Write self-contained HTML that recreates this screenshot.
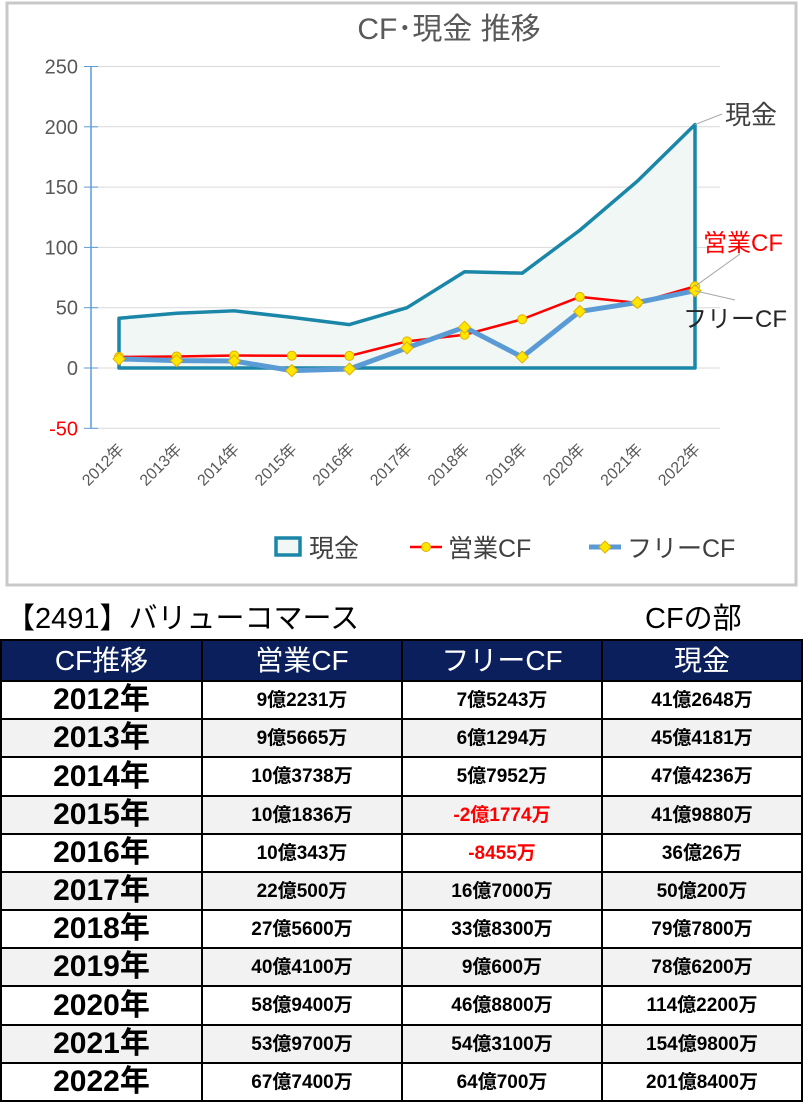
<!DOCTYPE html>
<html><head><meta charset="utf-8">
<style>
body{margin:0;width:803px;height:1102px;background:#fff;font-family:"Liberation Sans","Noto Sans CJK JP",sans-serif;overflow:hidden;position:relative}
#chart{position:absolute;left:0;top:0}
.hdr{position:absolute;top:602px;font-size:29px;line-height:34px;color:#000}
#grid{position:absolute;left:0;top:639px;width:803px;height:463px;background:#000}
.c{position:absolute;display:flex;align-items:center;justify-content:center;background:#fff;font-weight:bold;font-size:19px;line-height:1;white-space:nowrap}
.h{background:#0b1f5c;color:#fff;font-size:28px;font-weight:normal}
.g{background:#f2f2f2}
.y{font-size:30px}
.neg{color:#f00}
</style></head><body>
<svg id="chart" width="803" height="590" xmlns="http://www.w3.org/2000/svg" font-family="Liberation Sans, Noto Sans CJK JP, sans-serif"></svg>
<div class="hdr" style="left:6px">【2491】バリューコマース</div>
<div class="hdr" style="left:645px">CFの部</div>
<div id="grid"></div>
<script>
const categories=["2012年","2013年","2014年","2015年","2016年","2017年","2018年","2019年","2020年","2021年","2022年"];
const cash=[41.26,45.42,47.42,41.99,36.0,50.02,79.78,78.62,114.22,154.98,201.84];
const operating=[9.22,9.57,10.37,10.18,10.03,22.05,27.56,40.41,58.94,53.97,67.74];
const free=[7.52,6.13,5.80,-2.18,-0.85,16.7,33.83,9.06,46.88,54.31,64.07];
const yTicks=[250,200,150,100,50,0,-50];
const opText=["9億2231万","9億5665万","10億3738万","10億1836万","10億343万","22億500万","27億5600万","40億4100万","58億9400万","53億9700万","67億7400万"];
const freeText=["7億5243万","6億1294万","5億7952万","-2億1774万","-8455万","16億7000万","33億8300万","9億600万","46億8800万","54億3100万","64億700万"];
const cashText=["41億2648万","45億4181万","47億4236万","41億9880万","36億26万","50億200万","79億7800万","78億6200万","114億2200万","154億9800万","201億8400万"];
const NS="http://www.w3.org/2000/svg";
const svg=document.getElementById('chart');
const X=i=>119+i*57.6;
const Y=v=>368-v*1.206;
function mk(t,a,p){const e=document.createElementNS(NS,t);for(const k in a)e.setAttribute(k,a[k]);(p||svg).appendChild(e);return e;}
let e;
e=mk('rect',{x:7,y:3,width:789,height:582,fill:'#fff',stroke:'#c8c8c8','stroke-width':3});


e=mk('text',{x:449,y:39,'text-anchor':'middle','font-size':30,fill:'#595959'});e.textContent='CF･現金 推移';


yTicks.forEach(v=>{
 e=mk('line',{x1:91,x2:720,y1:Y(v),y2:Y(v),stroke:'#d9d9d9'});
 
 
 mk('line',{x1:84,x2:98,y1:Y(v),y2:Y(v),stroke:'#5b9bd5'});
 e=mk('text',{x:78,y:Y(v)+7,'text-anchor':'end','font-size':20,fill:v<0?'#f00':'#595959'});e.textContent=v;
 
 
});
e=mk('line',{x1:91,x2:91,y1:Y(250),y2:Y(-50),stroke:'#5b9bd5','stroke-width':1.5});


categories.forEach((c,i)=>{
 e=mk('text',{x:0,y:0,'text-anchor':'end','font-size':16,fill:'#595959',transform:`translate(${X(i)+6},${Y(-50)+22}) rotate(-45)`});e.textContent=c;
 
 
});
let d=`M${X(0)},${Y(0)} `+cash.map((v,i)=>`L${X(i)},${Y(v)}`).join(' ')+` L${X(cash.length-1)},${Y(0)} Z`;
e=mk('path',{d:d,fill:'#f1f7f4'});


e=mk('path',{d:d,fill:'none',stroke:'#1a86a8','stroke-width':3.5,'stroke-linejoin':'round'});


function series(arr,color,w,name,diamond){
 e=mk('polyline',{points:arr.map((v,i)=>X(i)+','+Y(v)).join(' '),fill:'none',stroke:color,'stroke-width':w,'stroke-linejoin':'round'});
 
 
 arr.forEach((v,i)=>{
  if(diamond) e=mk('path',{d:`M${X(i)},${Y(v)-6}L${X(i)+6},${Y(v)}L${X(i)},${Y(v)+6}L${X(i)-6},${Y(v)}Z`,fill:'#ffe600',stroke:'#e0b000'});
  else e=mk('circle',{cx:X(i),cy:Y(v),r:4.5,fill:'#ffe600',stroke:'#e0b000'});
  
  
 });
}
series(operating,'#ff0000',2.5,'operating-cf',false);
series(free,'#5b9bd5',5,'free-cf',true);
const n=cash.length-1;
mk('line',{x1:X(n),y1:Y(cash[n]),x2:722,y2:114,stroke:'#a6a6a6'});
e=mk('text',{x:725,y:124,'font-size':26,fill:'#404040'});e.textContent='現金';

mk('line',{x1:X(n),y1:Y(operating[n]),x2:740,y2:254,stroke:'#a6a6a6'});
e=mk('text',{x:703,y:251,'font-size':24,fill:'#f00'});e.textContent='営業CF';

mk('line',{x1:X(n),y1:Y(free[n]),x2:735,y2:300,stroke:'#a6a6a6'});
e=mk('text',{x:683,y:327,'font-size':24,fill:'#262626'});e.textContent='フリーCF';

e=mk('rect',{x:276,y:538,width:24,height:17,fill:'#f1f7f4',stroke:'#1a86a8','stroke-width':3.5});

e=mk('text',{x:309,y:557,'font-size':25,fill:'#404040'});e.textContent='現金';

mk('line',{x1:410,x2:442,y1:547,y2:547,stroke:'#f00','stroke-width':2.5});
mk('circle',{cx:426,cy:547,r:4.5,fill:'#ffe600',stroke:'#e0b000'});
e=mk('text',{x:448,y:557,'font-size':25,fill:'#404040'});e.textContent='営業CF';

mk('line',{x1:589,x2:621,y1:547,y2:547,stroke:'#5b9bd5','stroke-width':5});
mk('path',{d:'M605,541L611,547L605,553L599,547Z',fill:'#ffe600',stroke:'#e0b000'});
e=mk('text',{x:627,y:557,'font-size':25,fill:'#404040'});e.textContent='フリーCF';


// table
const grid=document.getElementById('grid');
const colX=[0,201,401,601,803];
function cell(r,c,txt,cls,top,h,name){
 const dv=document.createElement('div');
 dv.className='c '+cls;
 dv.style.left=(colX[c]+2)+'px';
 dv.style.width=(colX[c+1]-colX[c]-2-(c==3?2:0))+'px';
 dv.style.top=top+'px';
 dv.style.height=h+'px';
 dv.textContent=txt;
 
 
 grid.appendChild(dv);
}
const heads=["CF推移","営業CF","フリーCF","現金"];
heads.forEach((t,c)=>cell(0,c,t,'h',2,39,'header-cell'));
const rowH=(463-43)/11;
categories.forEach((cat,r)=>{
 const top=Math.round(43+r*rowH);
 const h=Math.round(43+(r+1)*rowH)-top-2;
 const g=r%2?' g':'';
 cell(r,0,cat,'y'+g,top,h,'year-cell');
 cell(r,1,opText[r],g,top,h,'operating-cell');
 cell(r,2,freeText[r],g+(freeText[r][0]=='-'?' neg':''),top,h,'free-cell');
 cell(r,3,cashText[r],g,top,h,'cash-cell');
});
</script>
</body></html>
